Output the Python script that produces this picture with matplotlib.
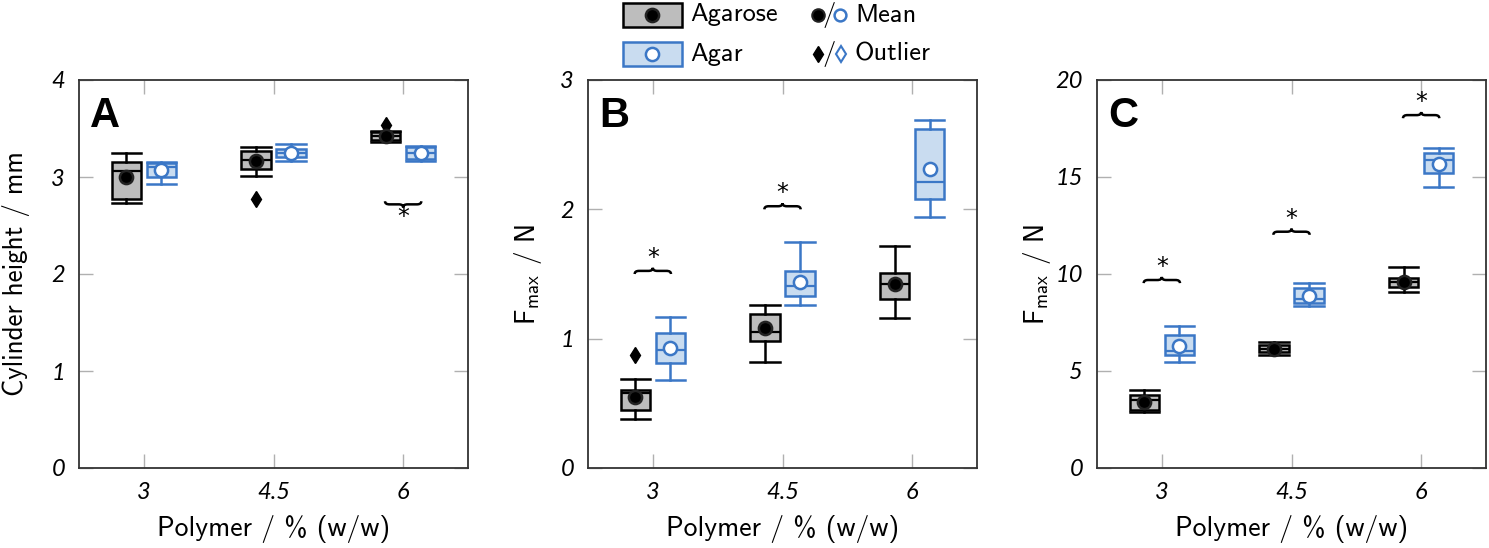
import matplotlib
matplotlib.use('Agg')
import matplotlib.pyplot as plt
from matplotlib.patches import Rectangle, PathPatch
from matplotlib.path import Path
from matplotlib.lines import Line2D

W, H = 1489, 548
plt.rcParams['mathtext.fontset'] = 'custom'
plt.rcParams['mathtext.rm'] = 'cmss10'
plt.rcParams['mathtext.default'] = 'regular'
plt.rcParams['axes.formatter.use_mathtext'] = True

polymer = ['3', '4.5', '6']

# panel A - cylinder height / mm
A_agarose_lo = [2.73, 3.01, 3.36]
A_agarose_q1 = [2.77, 3.08, 3.38]
A_agarose_med = [3.06, 3.18, 3.42]
A_agarose_q3 = [3.15, 3.27, 3.46]
A_agarose_hi = [3.25, 3.31, 3.47]
A_agarose_mean = [3.00, 3.16, 3.42]
A_agarose_out = [[], [2.77], [3.54]]
A_agar_lo = [2.93, 3.17, 3.17]
A_agar_q1 = [3.00, 3.21, 3.19]
A_agar_med = [3.10, 3.25, 3.25]
A_agar_q3 = [3.14, 3.29, 3.31]
A_agar_hi = [3.15, 3.34, 3.32]
A_agar_mean = [3.07, 3.25, 3.25]
A_agar_out = [[], [], []]
A_sig_pos = [2]
A_sig_y = [2.75]

# panel B - Fmax / N
B_agarose_lo = [0.38, 0.82, 1.16]
B_agarose_q1 = [0.445, 0.98, 1.31]
B_agarose_med = [0.58, 1.05, 1.42]
B_agarose_q3 = [0.60, 1.19, 1.51]
B_agarose_hi = [0.69, 1.26, 1.72]
B_agarose_mean = [0.55, 1.08, 1.42]
B_agarose_out = [[0.87], [], []]
B_agar_lo = [0.68, 1.26, 1.94]
B_agar_q1 = [0.81, 1.33, 2.08]
B_agar_med = [0.915, 1.41, 2.21]
B_agar_q3 = [1.04, 1.52, 2.62]
B_agar_hi = [1.17, 1.75, 2.69]
B_agar_mean = [0.93, 1.44, 2.31]
B_agar_out = [[], [], []]
B_sig_pos = [0, 1]
B_sig_y = [1.50, 2.00]

# panel C - Fmax / N
C_agarose_lo = [2.87, 5.82, 9.07]
C_agarose_q1 = [3.00, 5.96, 9.32]
C_agarose_med = [3.52, 6.13, 9.58]
C_agarose_q3 = [3.78, 6.33, 9.79]
C_agarose_hi = [4.03, 6.47, 10.35]
C_agarose_mean = [3.38, 6.13, 9.61]
C_agarose_out = [[], [], []]
C_agar_lo = [5.44, 8.36, 14.47]
C_agar_q1 = [5.80, 8.53, 15.21]
C_agar_med = [6.05, 8.70, 15.88]
C_agar_q3 = [6.83, 9.27, 16.26]
C_agar_hi = [7.30, 9.56, 16.50]
C_agar_mean = [6.28, 8.89, 15.66]
C_agar_out = [[], [], []]
C_sig_pos = [0, 1, 2]
C_sig_y = [9.53, 12.02, 18.03]

gray_fill = '#bdbdbd'
blue = '#3b77c6'
blue_fill = '#c9dcf0'
tickfont = dict(family='Lato', style='italic', size=17)
labfont = 'cmss10'


def stats(lo, q1, med, q3, hi, mean, out):
    return [dict(whislo=lo[i], q1=q1[i], med=med[i], q3=q3[i], whishi=hi[i],
                 mean=mean[i], fliers=out[i]) for i in range(len(med))]


def draw_boxes(ax, st, pos, edge, fill, mean_fc, mean_ec, flier_fc):
    ax.bxp(st, positions=pos, widths=0.225, capwidths=0.225, patch_artist=True,
           showmeans=True, showfliers=True, manage_ticks=False,
           boxprops=dict(facecolor=fill, edgecolor=edge, linewidth=1.8),
           medianprops=dict(color=edge, linewidth=1.6),
           whiskerprops=dict(color=edge, linewidth=1.8),
           capprops=dict(color=edge, linewidth=1.8),
           meanprops=dict(marker='o', markerfacecolor=mean_fc, markeredgecolor=mean_ec,
                          markersize=9.5, markeredgewidth=1.8),
           flierprops=dict(marker='d', markerfacecolor=flier_fc, markeredgecolor='black',
                           markersize=8, markeredgewidth=1))


def brace(ax, xc, y0, width, h):
    x0 = xc - width / 2
    x1 = xc + width / 2
    q = width * 0.12
    m = y0 + h / 2
    verts = [(x0, y0), (x0, m), (x0 + q, m), (xc - q, m), (xc, m), (xc, y0 + h),
             (xc, m), (xc + q, m), (x1 - q, m), (x1, m), (x1, y0)]
    codes = [Path.MOVETO, Path.CURVE3, Path.CURVE3, Path.LINETO, Path.CURVE3, Path.CURVE3,
             Path.CURVE3, Path.CURVE3, Path.LINETO, Path.CURVE3, Path.CURVE3]
    ax.add_patch(PathPatch(Path(verts, codes), fill=False, lw=1.8, color='black'))


def setup(ax, ymax, ystep, letter, ylabel):
    ax.set_xlim(-0.5, 2.5)
    ax.set_ylim(0, ymax)
    ax.set_xticks(range(3))
    ax.set_xticklabels(polymer, fontdict=tickfont)
    yt = list(range(0, ymax + 1, ystep))
    ax.set_yticks(yt)
    ax.set_yticklabels([str(v) for v in yt], fontdict=tickfont)
    ax.tick_params(direction='in', top=True, right=True, length=10, width=1,
                   color='#b0b0b0', pad=10)
    for s in ax.spines.values():
        s.set_color('#333333')
        s.set_linewidth(1.3)
    ax.text(0.028, 0.96, letter, transform=ax.transAxes, fontsize=30, fontweight='bold',
            family='Liberation Sans', va='top', ha='left')
    ax.set_xlabel('Polymer / % (w/w)', family=labfont, fontsize=20)
    ax.xaxis.set_label_coords(0.5, -0.12)
    ax.set_ylabel(ylabel, family=labfont, fontsize=19.5, va='center')


fig = plt.figure(figsize=(W / 100, H / 100), dpi=100)
lefts = [79, 588, 1097]
axes = [fig.add_axes([l / W, 1 - 468 / H, 389 / W, 388 / H]) for l in lefts]

panels = [
    (stats(A_agarose_lo, A_agarose_q1, A_agarose_med, A_agarose_q3, A_agarose_hi, A_agarose_mean, A_agarose_out),
     stats(A_agar_lo, A_agar_q1, A_agar_med, A_agar_q3, A_agar_hi, A_agar_mean, A_agar_out),
     A_sig_pos, A_sig_y, 4, 1, 'A', 'Cylinder height / mm', -1),
    (stats(B_agarose_lo, B_agarose_q1, B_agarose_med, B_agarose_q3, B_agarose_hi, B_agarose_mean, B_agarose_out),
     stats(B_agar_lo, B_agar_q1, B_agar_med, B_agar_q3, B_agar_hi, B_agar_mean, B_agar_out),
     B_sig_pos, B_sig_y, 3, 1, 'B', '$F_{max}$ / N', 1),
    (stats(C_agarose_lo, C_agarose_q1, C_agarose_med, C_agarose_q3, C_agarose_hi, C_agarose_mean, C_agarose_out),
     stats(C_agar_lo, C_agar_q1, C_agar_med, C_agar_q3, C_agar_hi, C_agar_mean, C_agar_out),
     C_sig_pos, C_sig_y, 20, 5, 'C', '$F_{max}$ / N', 1),
]

for ax, (st1, st2, sp, sy, ymax, ystep, letter, ylab, updown) in zip(axes, panels):
    draw_boxes(ax, st1, [i - 0.135 for i in range(3)], 'black', gray_fill, 'black', '#222222', 'black')
    draw_boxes(ax, st2, [i + 0.135 for i in range(3)], blue, blue_fill, 'white', blue, 'white')
    setup(ax, ymax, ystep, letter, ylab)
    h = 0.016 * ymax * updown
    for p, y in zip(sp, sy):
        brace(ax, p, y, 0.28, h)
        ax.text(p, y + h + 0.025 * ymax * updown, '*', ha='center', va='center',
                fontsize=17, family='DejaVu Sans')

axes[0].yaxis.set_label_coords(-0.163, 0.5)
axes[1].yaxis.set_label_coords(-0.155, 0.5)
axes[2].yaxis.set_label_coords(-0.155, 0.5)


# legend in figure pixels
def fx(x):
    return x / W


def fy(y):
    return 1 - y / H


fig.add_artist(Rectangle((fx(623), fy(27)), 59 / W, 24 / H, transform=fig.transFigure,
                         facecolor=gray_fill, edgecolor='black', lw=1.8))
fig.add_artist(Rectangle((fx(623), fy(66)), 59 / W, 24 / H, transform=fig.transFigure,
                         facecolor=blue_fill, edgecolor=blue, lw=1.8))
fig.add_artist(Line2D([fx(652)], [fy(15)], transform=fig.transFigure, marker='o', ms=9.5,
                      mfc='black', mec='#222222', mew=1.8))
fig.add_artist(Line2D([fx(652)], [fy(54)], transform=fig.transFigure, marker='o', ms=9.5,
                      mfc='white', mec=blue, mew=1.8))
fig.add_artist(Line2D([fx(818)], [fy(15)], transform=fig.transFigure, marker='o', ms=9,
                      mfc='black', mec='#222222', mew=1.5))
fig.add_artist(Line2D([fx(840)], [fy(15)], transform=fig.transFigure, marker='o', ms=8.5,
                      mfc='white', mec=blue, mew=1.8))
fig.add_artist(Line2D([fx(818)], [fy(54)], transform=fig.transFigure, marker='d', ms=8,
                      mfc='black', mec='black', mew=1))
fig.add_artist(Line2D([fx(841)], [fy(54)], transform=fig.transFigure, marker='d', ms=8,
                      mfc='white', mec=blue, mew=1.5))
for y in [15, 54]:
    fig.text(fx(829), fy(y), '/', family=labfont, fontsize=19, ha='center', va='center')
fig.text(fx(690), fy(15), 'Agarose', family=labfont, fontsize=19, va='center')
fig.text(fx(690), fy(54), 'Agar', family=labfont, fontsize=19, va='center')
fig.text(fx(855), fy(15), 'Mean', family=labfont, fontsize=19, va='center')
fig.text(fx(855), fy(54), 'Outlier', family=labfont, fontsize=19, va='center')

fig.savefig('out.png', dpi=100)
